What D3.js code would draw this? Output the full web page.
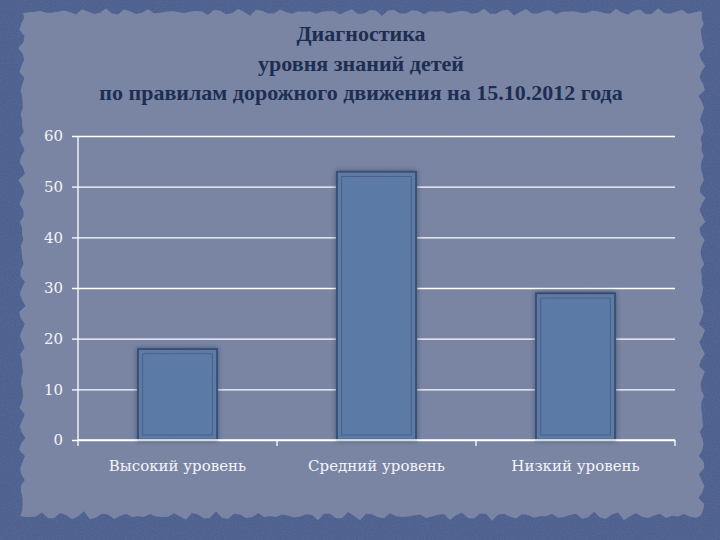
<!DOCTYPE html>
<html><head><meta charset="utf-8">
<script src="https://cdn.jsdelivr.net/npm/d3@7"></script>
<style>body{margin:0;background:#4a5d8c}svg{display:block}</style>
</head><body>
<script>
const categories = ["Высокий уровень", "Средний уровень", "Низкий уровень"];
const values = [18, 53, 29];
const yTicks = [0, 10, 20, 30, 40, 50, 60];
const titleLines = ["Диагностика", "уровня знаний детей", "по правилам дорожного движения на 15.10.2012 года"];

const W = 720, H = 540;
const svg = d3.select("body").append("svg").attr("width", W).attr("height", H);
const defs = svg.append("defs");

// textures
const f1 = defs.append("filter").attr("id","tex").attr("x",0).attr("y",0).attr("width","100%").attr("height","100%");
f1.append("feTurbulence").attr("type","fractalNoise").attr("baseFrequency","0.9").attr("numOctaves",2).attr("seed",3).attr("result","n");
f1.append("feColorMatrix").attr("in","n").attr("type","matrix")
  .attr("values","0 0 0 0 0.2  0 0 0 0 0.25  0 0 0 0 0.4  0 0 0 0.35 -0.1").attr("result","c");
f1.append("feComposite").attr("in","c").attr("in2","SourceGraphic").attr("operator","atop");

const sh = defs.append("filter").attr("id","shadow").attr("x","-20%").attr("y","-20%").attr("width","140%").attr("height","140%");
sh.append("feDropShadow").attr("dx",0).attr("dy",0).attr("stdDeviation",2.5).attr("flood-color","#1e2a45").attr("flood-opacity",0.6);

// outer background
svg.append("rect").attr("width",W).attr("height",H).attr("fill","#4b5f8e").attr("filter","url(#tex)");

// ragged paper area (deterministic jitter)
function jit(i, a){ return a*(Math.sin(i*1.7)+0.6*Math.sin(i*4.3+1)+0.4*Math.sin(i*9.1+2))/2; }
const pts = [];
const L=22, R=702, T=12, B=516;
let k=0;
for(let x=L; x<=R; x+=6) pts.push([x, T + jit(k++,4)]);
for(let y=T; y<=B; y+=6) pts.push([R + jit(k++,4), y]);
for(let x=R; x>=L; x-=6) pts.push([x, B + jit(k++,5)]);
for(let y=B; y>=T; y-=6) pts.push([L + jit(k++,4), y]);
svg.append("path").attr("d", d3.line()(pts)+"Z").attr("fill","#7a85a4").attr("filter","url(#tex)");

// title
const title = svg.append("text").attr("text-anchor","middle")
  .attr("font-family","'Liberation Serif','DejaVu Serif',serif").attr("font-weight","bold")
  .attr("font-size",22).attr("fill","#1d2e52");
const tY = [41, 71, 100];
titleLines.forEach((t,i)=> title.append("tspan").attr("x",361).attr("y",tY[i]).text(t));

// chart
const x0 = 78, x1 = 675, yTop = 136, yBot = 440;
const x = d3.scaleBand().domain(categories).range([x0, x1]).paddingInner(0.6).paddingOuter(0.3);
const xb = d3.scaleBand().domain(categories).range([x0, x1]);
const y = d3.scaleLinear().domain([0, 60]).range([yBot, yTop]);

const yAxis = svg.append("g").attr("transform",`translate(${x0},0)`)
  .call(d3.axisLeft(y).tickValues(yTicks).tickSize(-(x1-x0)).tickPadding(8));
yAxis.select(".domain").attr("stroke","#fff").attr("stroke-width",1.3).attr("d",`M0,${yTop}V${yBot}`);
yAxis.selectAll(".tick line").attr("stroke","#fff").attr("stroke-width",1.3).attr("x1",-6);
yAxis.selectAll(".tick text").attr("fill","#f4f4f8").attr("font-size",15)
  .attr("font-family","'DejaVu Serif','Liberation Serif',serif").attr("x",-15);

// bars
const bars = svg.append("g");
categories.forEach((c,i)=>{
  const bx = x(c), bw = x.bandwidth(), by = y(values[i]), bh = yBot - by;
  bars.append("rect").attr("x",bx).attr("y",by).attr("width",bw).attr("height",bh)
    .attr("fill","#5a7aa6").attr("stroke","#34496d").attr("stroke-width",1.2).attr("filter","url(#shadow)");
  bars.append("rect").attr("x",bx).attr("y",by).attr("width",bw).attr("height",bh)
    .attr("fill","#5a7aa6").attr("filter","url(#tex)").attr("opacity",0.9);
  bars.append("rect").attr("x",bx+0.5).attr("y",by+0.5).attr("width",bw-1).attr("height",bh-1)
    .attr("fill","none").attr("stroke","#34496d").attr("stroke-width",1.2);
  bars.append("rect").attr("x",bx+5).attr("y",by+5).attr("width",bw-10).attr("height",Math.max(0,bh-10))
    .attr("fill","none").attr("stroke","#3d5478").attr("stroke-width",0.8).attr("opacity",0.8);
});

// x axis
const xAxis = svg.append("g").attr("transform",`translate(0,${yBot})`)
  .call(d3.axisBottom(xb).tickSize(0).tickPadding(26));
xAxis.select(".domain").attr("stroke","#fff").attr("stroke-width",1.3).attr("d",`M${x0},0H${x1}`);
xAxis.selectAll(".tick text").attr("fill","#f4f4f8").attr("font-size",15)
  .attr("font-family","'DejaVu Serif','Liberation Serif',serif").attr("dy","0.35em");
const bounds = [x0].concat(categories.map(c=>xb(c)+xb.bandwidth()));
xAxis.selectAll(".bt").data(bounds).join("line").attr("class","bt")
  .attr("x1",d=>d).attr("x2",d=>d).attr("y1",0).attr("y2",6).attr("stroke","#fff").attr("stroke-width",1.3);
</script>
</body></html>
